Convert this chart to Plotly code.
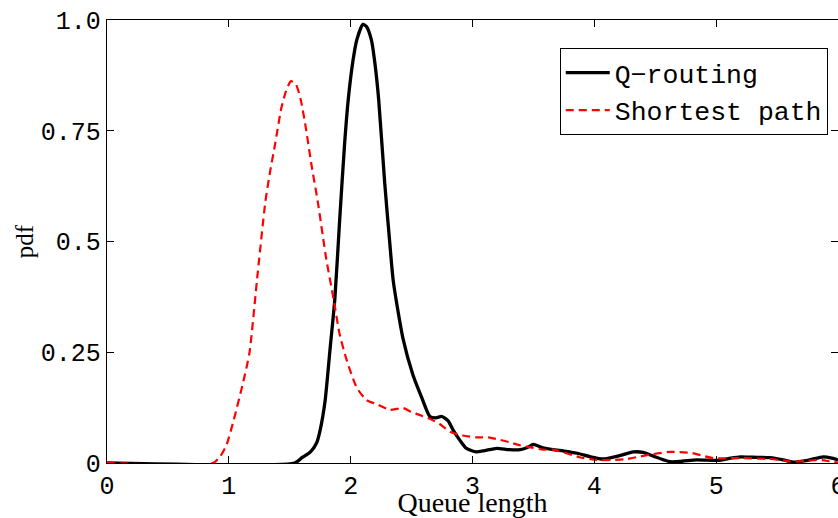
import plotly.graph_objects as go

# Q-routing (black solid)
q_x = [0, 1.54, 1.60, 1.67, 1.72, 1.75, 1.79, 1.83, 1.87, 1.91, 1.95, 1.98, 2.02, 2.05, 2.10, 2.13,
       2.17, 2.20, 2.23, 2.28, 2.32, 2.35, 2.43, 2.51, 2.58, 2.65, 2.70, 2.75, 2.80, 2.84, 2.90, 2.95,
       3.03, 3.10, 3.20, 3.30, 3.39, 3.45, 3.50, 3.57, 3.66, 3.75, 3.86, 3.97, 4.07, 4.20, 4.32, 4.40,
       4.48, 4.62, 4.72, 4.84, 5.03, 5.12, 5.20, 5.30, 5.44, 5.55, 5.63, 5.75, 5.88, 5.95, 6.00]
q_y = [0, 0, 0.012, 0.025, 0.045, 0.075, 0.14, 0.255, 0.37, 0.55, 0.72, 0.82, 0.91, 0.955, 0.99, 0.985,
       0.955, 0.90, 0.82, 0.63, 0.50, 0.41, 0.28, 0.20, 0.15, 0.105, 0.102, 0.105, 0.095, 0.075, 0.05, 0.033,
       0.025, 0.028, 0.033, 0.030, 0.030, 0.035, 0.042, 0.035, 0.030, 0.027, 0.022, 0.014, 0.009, 0.016, 0.025, 0.024,
       0.016, 0.003, 0.004, 0.007, 0.006, 0.011, 0.014, 0.013, 0.012, 0.007, 0.002, 0.006, 0.014, 0.011, 0.007]

# Shortest path (red dashed)
s_x = [0, 0.87, 0.93, 0.98, 1.04, 1.12, 1.17, 1.23, 1.30, 1.34, 1.38, 1.43, 1.47, 1.51, 1.55, 1.59,
       1.63, 1.68, 1.73, 1.80, 1.86, 1.91, 1.97, 2.05, 2.13, 2.22, 2.32, 2.43, 2.50, 2.57, 2.65, 2.73,
       2.82, 2.92, 3.03, 3.13, 3.23, 3.30, 3.39, 3.50, 3.58, 3.66, 3.77, 3.88, 4.02, 4.15, 4.27, 4.38,
       4.48, 4.62, 4.79, 4.88, 4.98, 5.20, 5.44, 5.55, 5.63, 5.75, 5.85, 5.93, 6.00]
s_y = [0, 0, 0.015, 0.04, 0.097, 0.185, 0.25, 0.41, 0.59, 0.66, 0.72, 0.80, 0.84, 0.862, 0.855, 0.82,
       0.76, 0.67, 0.59, 0.46, 0.37, 0.29, 0.23, 0.17, 0.142, 0.132, 0.12, 0.124, 0.115, 0.108, 0.10, 0.088,
       0.07, 0.062, 0.058, 0.058, 0.052, 0.047, 0.04, 0.034, 0.03, 0.03, 0.022, 0.013, 0.007, 0.007, 0.009, 0.015,
       0.02, 0.025, 0.023, 0.017, 0.011, 0.011, 0.009, 0.006, 0.003, 0.005, 0.007, 0.004, 0.001]

x_ticks = [0, 1, 2, 3, 4, 5, 6]
x_ticktext = ["0", "1", "2", "3", "4", "5", "6"]
y_ticks = [0, 0.25, 0.5, 0.75, 1.0]
y_ticktext = ["0", "0.25", "0.5", "0.75", "1.0"]

mono = "Liberation Mono, Courier New, monospace"
serif = "Liberation Serif, DejaVu Serif, serif"

fig = go.Figure()
fig.add_trace(go.Scatter(x=q_x, y=q_y, mode="lines", name="Q\u2212routing",
                         line=dict(color="black", width=3.3, shape="spline", smoothing=0.6)))
fig.add_trace(go.Scatter(x=s_x, y=s_y, mode="lines", name="Shortest path",
                         line=dict(color="red", width=2.2, dash="8px,5px", shape="spline", smoothing=0.6)))

axis_common = dict(showline=True, linecolor="black", linewidth=1.3, mirror="ticks",
                   ticks="inside", ticklen=7, tickcolor="black", tickwidth=1,
                   showgrid=False, zeroline=False, automargin=False,
                   ticklabeloverflow="allow",
                   tickfont=dict(family=mono, size=25, color="black"))

fig.update_layout(
    width=838, height=518,
    margin=dict(l=107, r=0, t=20, b=55),
    paper_bgcolor="white", plot_bgcolor="white",
    showlegend=True,
    legend=dict(x=0.986, y=0.937, xanchor="right", yanchor="top",
                bgcolor="white", bordercolor="black", borderwidth=1,
                itemwidth=44,
                font=dict(family=mono, size=26.5, color="black")),
    xaxis=dict(range=[0, 6], tickvals=x_ticks, ticktext=x_ticktext,
               title=dict(text="Queue length", font=dict(family=serif, size=28, color="black"), standoff=0),
               **axis_common),
    yaxis=dict(range=[0, 1], tickvals=y_ticks, ticktext=y_ticktext,
               title=dict(text="pdf", font=dict(family=serif, size=25, color="black"), standoff=0),
               **axis_common),
)

fig.write_html("out.html")
